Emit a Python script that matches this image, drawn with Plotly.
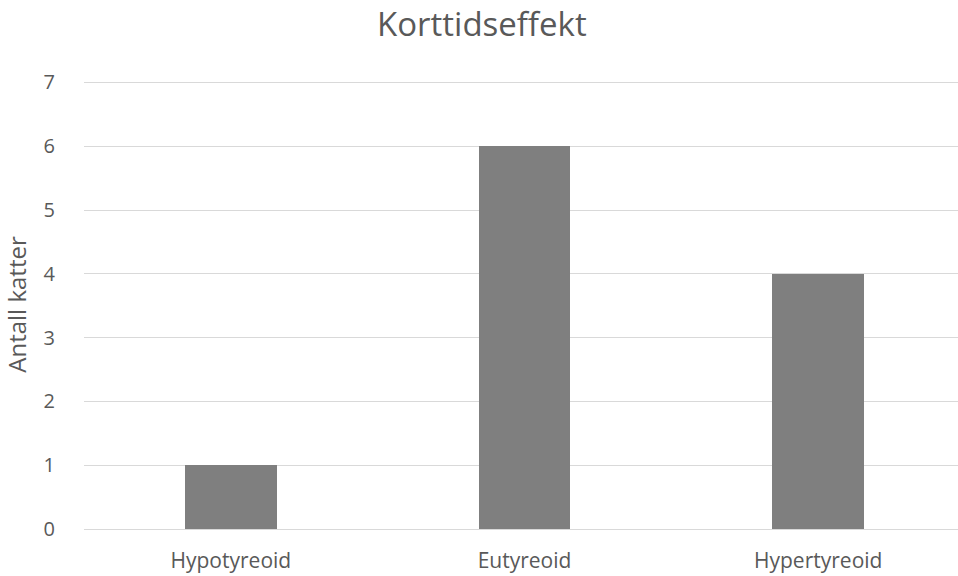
import plotly.graph_objects as go

categories = ["Hypotyreoid", "Eutyreoid", "Hypertyreoid"]
values = [1, 6, 4]
y_ticks = [0, 1, 2, 3, 4, 5, 6, 7]

FONT = "Open Sans"
TXT = "#595959"

fig = go.Figure()
fig.add_trace(go.Bar(
    x=categories, y=values,
    marker=dict(color="#7f7f7f", line=dict(width=0)),
    width=0.313,
    hoverinfo="x+y",
))

fig.update_layout(
    width=958, height=576,
    margin=dict(l=84, r=0, t=80, b=47),
    paper_bgcolor="white", plot_bgcolor="white",
    title=dict(text="Korttidseffekt", x=0.503, xanchor="center", xref="container",
               y=0.958, yanchor="middle", yref="container",
               font=dict(family=FONT, size=33, color=TXT)),
    showlegend=False,
    bargap=0,
    font=dict(family=FONT, color=TXT),
)
fig.update_xaxes(
    type="category",
    range=[-0.5, 2.476],
    automargin=False,
    showgrid=False, showline=False, zeroline=False,
    ticks="outside", ticklen=13, tickcolor="rgba(0,0,0,0)",
    tickfont=dict(family=FONT, size=21, color=TXT),
)
fig.update_yaxes(
    range=[0, 7.039],
    automargin=False,
    tickvals=y_ticks,
    showgrid=True, gridcolor="#d9d9d9", gridwidth=1,
    zeroline=True, zerolinecolor="#d9d9d9", zerolinewidth=1,
    showline=False,
    ticks="outside", ticklen=24, tickcolor="rgba(0,0,0,0)",
    tickfont=dict(family=FONT, size=20, color=TXT),
    title=dict(text="Antall katter", font=dict(family=FONT, size=24, color=TXT), standoff=10),
)

fig.write_html("out.html")
